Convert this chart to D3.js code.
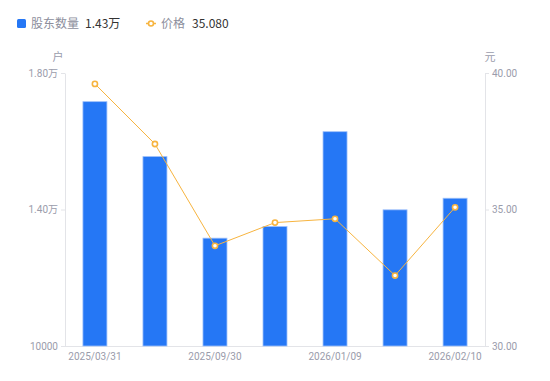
<!DOCTYPE html>
<html><head><meta charset="utf-8">
<script src="https://cdn.jsdelivr.net/npm/d3@7"></script>
<style>body{margin:0;background:#fff}svg{display:block;font-family:"Noto Sans CJK SC","Noto Sans",sans-serif}</style>
</head><body><svg id="c" width="550" height="381"></svg>
<script>
const dates = ["2025/03/31","2025/06/30","2025/09/30","2025/12/31","2026/01/09","2026/01/20","2026/02/10"];
const holders = [17160, 15550, 13160, 13500, 16280, 13990, 14330];
const prices = [39.60, 37.40, 33.67, 34.52, 34.66, 32.58, 35.08];
const leftTicks = [10000, 14000, 18000];
const leftTickLabels = ["10000", "1.40万", "1.80万"];
const rightTicks = [30, 35, 40];
const shownDates = ["2025/03/31","2025/09/30","2026/01/09","2026/02/10"];

const svg = d3.select("#c");
const L = 65, R = 485, T = 73, B = 346;
const x = d3.scaleBand().domain(dates).range([L, R]).paddingInner(0.583).paddingOuter(0.29);
const yL = d3.scaleLinear().domain([10000, 18000]).range([B, T]);
const yR = d3.scaleLinear().domain([30, 40]).range([B, T]);
const axisCol = "#e3e4e8", textCol = "#9a9cab";

// axes
const gL = svg.append("g").attr("transform", `translate(${L},0)`)
  .call(d3.axisLeft(yL).tickValues(leftTicks).tickFormat((d,i)=>leftTickLabels[i]).tickSizeInner(4).tickSizeOuter(0).tickPadding(3));
const gR = svg.append("g").attr("transform", `translate(${R},0)`)
  .call(d3.axisRight(yR).tickValues(rightTicks).tickFormat(d3.format(".2f")).tickSizeInner(4).tickSizeOuter(0).tickPadding(3));
const gB = svg.append("g").attr("transform", `translate(0,${B})`)
  .call(d3.axisBottom(x).tickValues(shownDates).tickSize(0).tickSizeOuter(0).tickPadding(7));
gB.select(".domain").attr("d", `M${L},0.5H${R}`);
[gL, gR, gB].forEach(g => {
  g.selectAll(".domain, line").attr("stroke", axisCol);
  g.selectAll("text").attr("fill", textCol).attr("font-size", 10).attr("font-family", "Roboto, 'Noto Sans CJK SC', sans-serif");
});

// unit labels
svg.append("text").attr("x", 58).attr("y", 61).attr("text-anchor","middle").attr("font-size", 11).attr("fill", textCol).text("户");
svg.append("text").attr("x", 490).attr("y", 61).attr("text-anchor","middle").attr("font-size", 11).attr("fill", textCol).text("元");

// bars
const bw = 25;
svg.append("g").selectAll("rect").data(dates).join("rect")
  .attr("x", d => x(d) + x.bandwidth()/2 - bw/2 + 0.5)
  .attr("width", bw - 1)
  .attr("y", (d,i) => yL(holders[i]))
  .attr("height", (d,i) => B - yL(holders[i]))
  .attr("fill", "#2577f5").attr("stroke", "#9dc0fa").attr("stroke-width", 0.8);

// line
const lineCol = "#f7b43f";
const line = d3.line().x(d => x(d[0]) + x.bandwidth()/2).y(d => yR(d[1]));
const pts = dates.map((d,i)=>[d, prices[i]]);
svg.append("path").datum(pts).attr("d", line).attr("fill","none").attr("stroke", lineCol).attr("stroke-width", 1);
svg.append("g").selectAll("circle").data(pts).join("circle")
  .attr("cx", d => x(d[0]) + x.bandwidth()/2).attr("cy", d => yR(d[1])).attr("r", 2.6)
  .attr("fill", "#fff").attr("stroke", lineCol).attr("stroke-width", 1.6);

// legend
const lg = svg.append("g").attr("font-size", 12);
lg.append("rect").attr("x", 17).attr("y", 19).attr("width", 9).attr("height", 9).attr("rx", 1.5).attr("fill", "#2577f5");
lg.append("text").attr("x", 31).attr("y", 28).attr("fill", "#8c8e9c").text("股东数量");
lg.append("text").attr("x", 85).attr("y", 28).attr("fill", "#333").text(d3.format(".2f")(holders[6]/10000) + "万");
lg.append("line").attr("x1", 146).attr("x2", 156).attr("y1", 23.5).attr("y2", 23.5).attr("stroke", lineCol).attr("stroke-width", 1.5);
lg.append("circle").attr("cx", 151).attr("cy", 23.5).attr("r", 2.5).attr("fill","#fff").attr("stroke", lineCol).attr("stroke-width", 1.6);
lg.append("text").attr("x", 161).attr("y", 28).attr("fill", "#8c8e9c").text("价格");
lg.append("text").attr("x", 192).attr("y", 28).attr("fill", "#333").text("35.080");
</script></body></html>
